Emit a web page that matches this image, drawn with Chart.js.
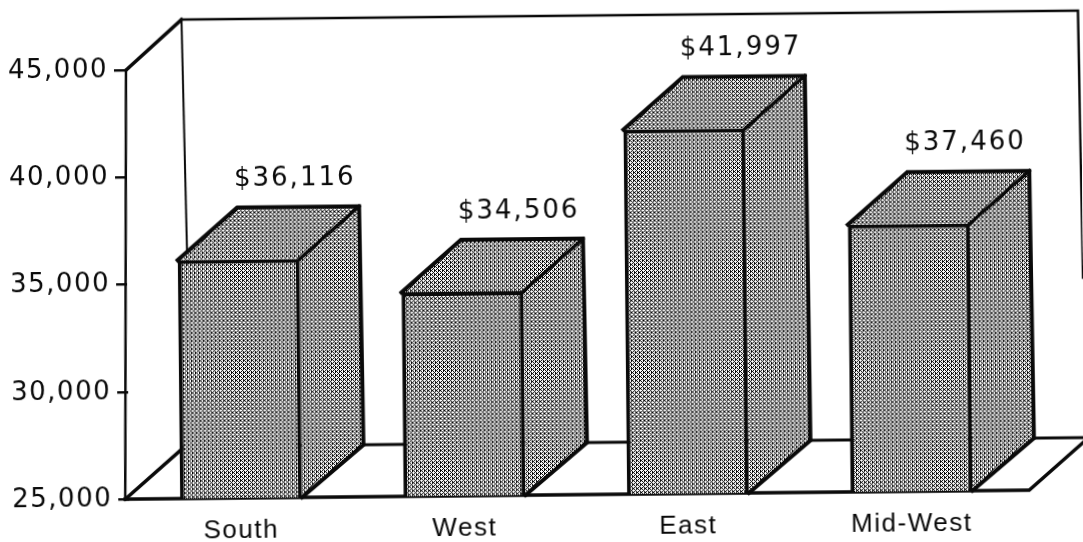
<!DOCTYPE html>
<html>
<head>
<meta charset="utf-8">
<style>
html,body{margin:0;padding:0;background:#fff;overflow:hidden}
#wrap{width:1083px;height:542px;transform:rotate(-0.57deg)}
</style>
<script src="https://cdn.jsdelivr.net/npm/chart.js@4"></script>
</head>
<body>
<div id="wrap"><canvas id="c"></canvas></div>
<script>
const regions=['South','West','East','Mid-West'];
const incomes=[36116,34506,41997,37460];
const yTicks=[25000,30000,35000,40000,45000];

// box depth of the fake 3d, px
const DX=60,DY=52;
const INK='#0a0a0a';

function dither(){
  const rows=['#.#.','..##','#.#.','.#..'];
  const cv=document.createElement('canvas');cv.width=4;cv.height=4;
  const x=cv.getContext('2d');
  x.fillStyle='#fff';x.fillRect(0,0,4,4);
  x.fillStyle='#000';
  rows.forEach((r,j)=>[...r].forEach((ch,i)=>{if(ch==='#')x.fillRect(i,j,1,1)}));
  return x.createPattern(cv,'repeat');
}
const shade=dither();

function line(ctx,pts,w){
  ctx.beginPath();
  pts.forEach((p,i)=>i?ctx.lineTo(p[0],p[1]):ctx.moveTo(p[0],p[1]));
  ctx.lineWidth=w;ctx.strokeStyle=INK;ctx.lineCap='square';ctx.lineJoin='miter';
  ctx.stroke();
}

// canvas letter spacing per axis, chart.js has no option for it
function spaced(scale,px){
  const draw=scale.drawLabels;
  scale.drawLabels=function(area){
    const ctx=this.ctx;
    ctx.letterSpacing=px;draw.call(this,area);ctx.letterSpacing='0px';
  };
}
const spacing={
  id:'spacing',
  afterLayout(chart){
    if(chart.$spaced)return;
    chart.$spaced=true;
    spaced(chart.scales.y,'1.5px');
    spaced(chart.scales.x,'1.5px');
  }
};

const box3d={
  id:'box3d',
  beforeDatasetsDraw(chart){
    const ctx=chart.ctx,{x,y}=chart.scales;
    const base=y.getPixelForValue(25000),top=y.getPixelForValue(45000);
    const l=chart.chartArea.left,r=chart.chartArea.right;
    ctx.save();
    // walls
    line(ctx,[[l+1,top],[l-4,base]],2.5);
    line(ctx,[[l+1,top],[l+DX-3,top-DY+2]],3.5);
    line(ctx,[[l+DX-3,top-DY+2],[l+DX+3,base-DY]],2);
    line(ctx,[[l+DX-3,top-DY+2],[1080.5,top-DY+2],[1083,283]],2.5);
    // floor
    line(ctx,[[l-4,base],[r+6,base],[r+6+DX,base-DY]],3.5);
    line(ctx,[[l-4,base],[l-4+DX,base-DY]],3.5);
    line(ctx,[[l-4+DX,base-DY],[r+6+DX,base-DY]],3);
    // side and top faces
    chart.getDatasetMeta(0).data.forEach(bar=>{
      const w=bar.width/2,x0=bar.x-w,x1=bar.x+w,t=bar.y;
      const bx=x1+DX+2; // back edge leans out a little at the floor
      ctx.fillStyle=shade;
      ctx.beginPath();
      ctx.moveTo(x1,t);ctx.lineTo(x1+DX,t-DY);ctx.lineTo(bx,base-DY);ctx.lineTo(x1,base);ctx.closePath();
      ctx.fill();
      ctx.beginPath();
      ctx.moveTo(x0,t);ctx.lineTo(x0+DX,t-DY);ctx.lineTo(x1+DX,t-DY);ctx.lineTo(x1,t);ctx.closePath();
      ctx.fill();
      line(ctx,[[x0,t],[x0+DX,t-DY],[x1+DX,t-DY],[bx,base-DY],[x1,base]],4);
      line(ctx,[[x1,t],[x1+DX,t-DY]],3.5);
    });
    ctx.restore();
  },
  afterDatasetsDraw(chart){
    const ctx=chart.ctx;
    ctx.save();
    ctx.font='26px "DejaVu Sans"';
    ctx.fillStyle=INK;ctx.textAlign='center';ctx.textBaseline='middle';
    ctx.letterSpacing='2px';
    chart.getDatasetMeta(0).data.forEach((bar,i)=>{
      ctx.fillText('$'+incomes[i].toLocaleString('en-US'),bar.x+57,bar.y-80);
    });
    ctx.restore();
  }
};

new Chart(document.getElementById('c'),{
  type:'bar',
  data:{labels:regions,datasets:[{
    data:incomes,backgroundColor:shade,borderColor:INK,borderWidth:4,borderSkipped:false,
    barPercentage:122/223.5,categoryPercentage:1
  }]},
  options:{
    responsive:true,maintainAspectRatio:false,animation:false,
    layout:{padding:{top:66,right:62,left:0,bottom:0}},
    plugins:{legend:{display:false},tooltip:{enabled:false}},
    scales:{
      x:{
        grid:{display:false},border:{display:false},
        ticks:{color:INK,font:{family:'"Liberation Sans"',size:26},padding:9,maxRotation:0},
        afterFit(s){s.height=47}
      },
      y:{
        min:25000,max:45000,
        afterBuildTicks(s){s.ticks=yTicks.map(v=>({value:v}))},
        afterFit(s){s.width=127},
        grid:{drawOnChartArea:false,color:INK,lineWidth:2.5,tickLength:11},
        border:{display:false},
        ticks:{color:INK,font:{family:'"DejaVu Sans"',size:26},padding:6,
          callback:v=>v.toLocaleString('en-US')}
      }
    }
  },
  plugins:[spacing,box3d]
});
</script>
</body>
</html>
